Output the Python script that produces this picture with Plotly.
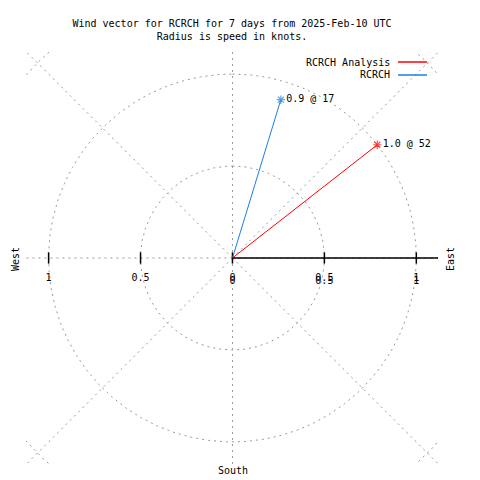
import numpy as np
import plotly.graph_objects as go

# ---- data ----
series_names = ["RCRCH Analysis", "RCRCH"]
speeds_kt = [1.0, 0.9]          # radius = speed (knots)
directions_deg = [52, 17]       # compass direction (clockwise from north)
series_colors = ["#ff0000", "#1a7fe6"]

r_grid = [0.5, 1.0, 1.5]
angle_grid = [0, 45, 90, 135, 180, 225, 270, 315]
tick_vals = [-1, -0.5, 0, 0.5, 1]
tick_text = ["1", "0.5", "0", "0.5", "1"]
r_tick_vals = [0, 0.5, 1]
r_tick_text = ["0", "0.5", "1"]

title_lines = ["Wind vector for RCRCH for 7 days from 2025-Feb-10 UTC",
               "Radius is speed in knots."]

FONT = "DejaVu Sans Mono"
GRID = "#999999"
XR = [-1.123, 1.118]
YR = [-1.12, 1.12]

fig = go.Figure()

# radial grid lines
for a in angle_grid:
    th = np.deg2rad(a)
    fig.add_trace(go.Scatter(x=[0, 2.5 * np.sin(th)], y=[0, 2.5 * np.cos(th)],
                             mode="lines", line=dict(color=GRID, width=1, dash="2px,4px"),
                             hoverinfo="skip", showlegend=False))

# circular grid
for r in r_grid:
    t = np.linspace(0, 2 * np.pi, 721)
    fig.add_trace(go.Scatter(x=r * np.sin(t), y=r * np.cos(t), mode="lines",
                             line=dict(color=GRID, width=1, dash="2px,4px"),
                             hoverinfo="skip", showlegend=False))

# solid axis line (positive x)
fig.add_shape(type="line", xref="x", yref="y", x0=0, x1=XR[1], y0=0, y1=0,
              line=dict(color="black", width=1.5))

# tick marks
fig.add_trace(go.Scatter(x=tick_vals, y=[0] * len(tick_vals), mode="markers",
                         marker=dict(symbol="line-ns", size=8,
                                     line=dict(color="black", width=1.5)),
                         hoverinfo="skip", showlegend=False))

# wind vectors
for name, r, d, c in zip(series_names, speeds_kt, directions_deg, series_colors):
    th = np.deg2rad(d)
    x = r * np.sin(th)
    y = r * np.cos(th)
    fig.add_trace(go.Scatter(x=[0, x], y=[0, y], mode="lines+markers+text",
                             line=dict(color=c, width=1),
                             marker=dict(symbol="asterisk-open", size=[0, 7],
                                         line=dict(color=c, width=1.2)),
                             text=["", f"{r:.1f} @ {d}"], textposition="middle right",
                             textfont=dict(family=FONT, size=10, color="black"),
                             name=name, showlegend=False, cliponaxis=False))

# manual legend (text to the left of the sample line)
L, B, W, H = 26, 16, 412, 412
def px(xp):
    return (xp - L) / W
def py(yp):
    return (480 - B - yp) / H

for i, (name, c) in enumerate(zip(series_names, series_colors)):
    yy = 62 + 13 * i
    fig.add_annotation(x=px(392), y=py(yy), xref="paper", yref="paper", text=name,
                       showarrow=False, xanchor="right", yanchor="middle",
                       font=dict(family=FONT, size=10, color="black"))
    fig.add_shape(type="line", xref="paper", yref="paper", x0=px(398), x1=px(427),
                  y0=py(yy), y1=py(yy), line=dict(color=c, width=1.5))

# axis direction labels
for txt, xx, yy, ang in [("West", 15, 259, -90), ("East", 450, 259, -90), ("South", 233, 470, 0)]:
    fig.add_annotation(x=px(xx), y=py(yy), xref="paper", yref="paper", text=txt,
                       showarrow=False, textangle=ang, xanchor="center", yanchor="middle",
                       font=dict(family=FONT, size=10, color="black"))

fig.update_layout(
    width=480, height=480,
    margin=dict(l=L, r=480 - L - W, t=480 - B - H, b=B),
    paper_bgcolor="white", plot_bgcolor="white",
    font=dict(family=FONT, size=10, color="black"),
    title=dict(text="<br>".join(title_lines), x=232 / 480, xanchor="center",
               y=1 - 26.5 / 480, yanchor="middle", yref="container",
               font=dict(family=FONT, size=10, color="black")),
    showlegend=False,
    xaxis=dict(range=XR, showgrid=False, zeroline=False, showline=False,
               tickvals=tick_vals, ticktext=tick_text, ticks="",
               anchor="free", position=0.5, ticklabelstandoff=12,
               tickfont=dict(family=FONT, size=10, color="black"), fixedrange=True),
    xaxis2=dict(range=XR, overlaying="x", showgrid=False, zeroline=False, showline=False,
                tickvals=r_tick_vals, ticktext=r_tick_text, ticks="",
                anchor="free", position=0.5, ticklabelstandoff=15, side="bottom",
                tickfont=dict(family=FONT, size=10, color="black"), fixedrange=True),
    yaxis=dict(range=YR, showgrid=False, zeroline=False, showline=False,
               showticklabels=False, fixedrange=True),
)

# dummy trace to activate xaxis2
fig.add_trace(go.Scatter(x=[0], y=[0], xaxis="x2", mode="markers",
                         marker=dict(size=0, opacity=0), hoverinfo="skip", showlegend=False))

fig.write_html("out.html", config={"displayModeBar": False},
               post_script="document.body.style.margin='0';")
